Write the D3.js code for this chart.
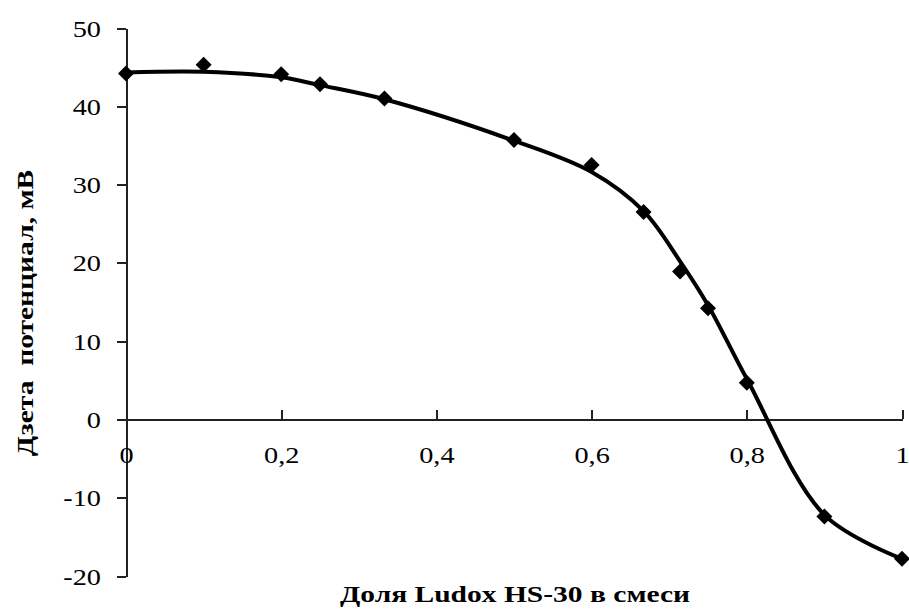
<!DOCTYPE html>
<head>
  <meta charset="utf-8">
  <script src="https://d3js.org/d3.v7.min.js"></script>
  <style>
    body { margin: 0; background: #fff; }
    svg { display: block; }
    .axis path, .axis line { stroke: #222; stroke-width: 2px; shape-rendering: crispEdges; }
    .axis text { font-family: "Liberation Serif", "Times New Roman", serif; font-size: 23px; fill: #000; }
    .title { font-family: "Liberation Serif", "Times New Roman", serif; font-size: 24px; font-weight: bold; fill: #000; }
  </style>
</head>
<body>
<svg width="909" height="612"></svg>
<script>

// measured points
var fraction = [0, 0.1, 0.2, 0.25, 0.333, 0.5, 0.6, 0.667, 0.714, 0.75, 0.8, 0.9, 1];
var zeta     = [44.2, 45.3, 44.1, 42.8, 41.0, 35.7, 32.5, 26.5, 18.9, 14.2, 4.7, -12.4, -17.8];

// smoothed curve drawn through the points
var fitFraction = [0, 0.1, 0.2, 0.25, 0.333, 0.5, 0.6, 0.667, 0.714, 0.75, 0.8, 0.9, 1];
var fitZeta     = [44.3, 44.4, 43.7, 42.7, 40.9, 35.6, 31.6, 26.6, 20.2, 14.6, 5.2, -12.2, -17.8];

var xTicks = [0, 0.2, 0.4, 0.6, 0.8, 1];
var yTicks = [-20, -10, 0, 10, 20, 30, 40, 50];

var svg = d3.select("svg");
var stretch = 1.23;   // the original is a bit wider than tall

var x = d3.scaleLinear().domain([0, 1]).range([126, 902]);
var y = d3.scaleLinear().domain([-20, 50]).range([576, 28]);

var fmt = function(d) { return String(d).replace(".", ",").replace("−", "-"); };

// y axis
var ya = svg.append("g")
    .attr("class", "axis")
    .attr("transform", "translate(" + x(0) + ",0)")
    .call(d3.axisLeft(y).tickValues(yTicks).tickFormat(fmt).tickSize(9).tickSizeOuter(0));
ya.selectAll(".tick text")
    .attr("x", 0)
    .attr("dy", "0.35em")
    .attr("transform", "translate(-25,0) scale(" + stretch + ",1)");

// x axis along zero line, ticks pointing up
var xa = svg.append("g")
    .attr("class", "axis")
    .attr("transform", "translate(0," + y(0) + ")")
    .call(d3.axisBottom(x).tickValues(xTicks).tickFormat(fmt).tickSizeOuter(0).tickSize(0));
xa.selectAll(".tick line").attr("y1", 0).attr("y2", -9);
xa.selectAll(".tick text")
    .attr("y", 0)
    .attr("dy", 0)
    .attr("transform", "translate(0,44) scale(" + stretch + ",1)");

// curve
var line = d3.line()
    .x(function(d, i) { return x(fitFraction[i]); })
    .y(function(d) { return y(d); })
    .curve(d3.curveCatmullRom.alpha(0.5));

svg.append("path")
    .datum(fitZeta)
    .attr("fill", "none")
    .attr("stroke", "#000")
    .attr("stroke-width", 4)
    .attr("d", line);

// markers
svg.selectAll(".pt")
    .data(zeta)
    .enter()
    .append("path")
    .attr("class", "pt")
    .attr("transform", function(d, i) { return "translate(" + x(fraction[i]) + "," + y(d) + ")"; })
    .attr("d", "M0,-8L8,0L0,8L-8,0Z")
    .attr("fill", "#000");

// titles
svg.append("text")
    .attr("class", "title")
    .attr("text-anchor", "middle")
    .attr("transform", "translate(515,602) scale(" + stretch + ",1)")
    .text("Доля Ludox HS-30 в смеси");

svg.append("text")
    .attr("class", "title")
    .attr("transform", "translate(33,313) rotate(-90) scale(" + stretch + ",1)")
    .attr("text-anchor", "middle")
    .style("white-space", "pre")
    .text("Дзета  потенциал, мВ");

</script>
</body>
